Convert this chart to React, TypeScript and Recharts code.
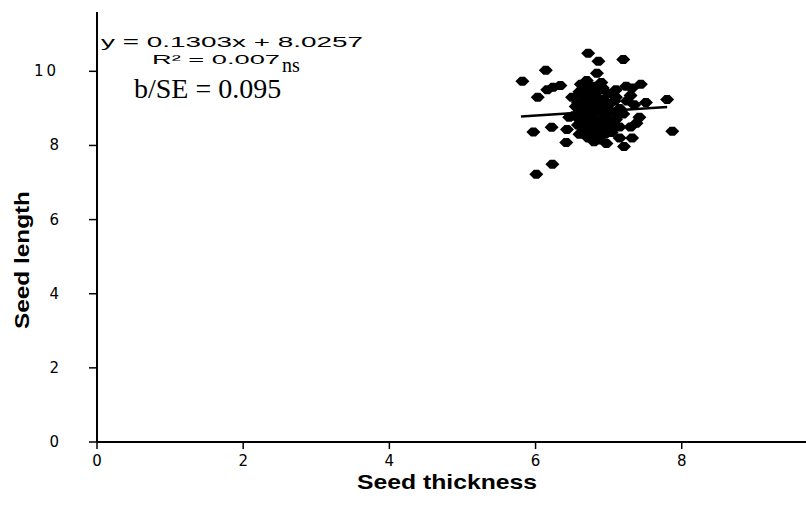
import React from "react";
import { ScatterChart, Scatter, XAxis, YAxis } from "recharts";

const thickness = [
  6.72, 6.86, 7.2, 6.14, 5.82, 6.84, 6.24, 6.34, 6.16, 6.03, 7.24, 7.44, 7.32, 7.51, 7.8, 7.42,
  6.46, 6.22, 5.97, 6.43, 7.87, 6.42, 6.97, 7.21, 7.32, 6.23, 6.01,
  6.6, 6.7, 6.8, 6.65, 6.75, 6.9, 7.0, 7.1, 6.55, 6.6, 6.7, 6.8, 6.9, 7.0, 6.85, 6.95, 7.05, 7.15,
  6.6, 6.7, 6.8, 6.9, 7.0, 7.1, 6.65, 6.75, 6.85, 6.95, 7.05, 7.15, 6.72, 6.88, 6.58, 6.62, 6.78,
  6.92, 7.1, 7.25, 7.2, 6.5, 6.52, 6.68, 6.82, 6.98, 6.72, 6.78, 6.86, 7.02, 6.62, 6.95, 6.7, 6.9,
  7.3, 7.38, 6.6, 7.3, 7.35, 7.15, 6.8,
  6.64, 6.74, 6.84, 6.94, 6.68, 6.78, 6.88, 6.98, 6.66, 6.76, 6.86, 6.96, 7.08, 7.12, 6.58, 6.72,
  6.82, 6.92, 7.04, 6.7,
];
const seedLength = [
  10.49, 10.27, 10.32, 10.03, 9.73, 9.95, 9.57, 9.62, 9.5, 9.3, 9.6, 9.65, 9.55, 9.16, 9.24, 8.76,
  8.76, 8.49, 8.36, 8.43, 8.38, 8.08, 8.05, 7.97, 8.2, 7.49, 7.22,
  9.45, 9.5, 9.35, 9.2, 9.1, 9.25, 9.4, 9.3, 9.05, 8.9, 8.95, 8.85, 8.95, 9.1, 9.05, 8.8, 8.9, 9.0,
  8.7, 8.6, 8.7, 8.55, 8.65, 8.7, 8.45, 8.35, 8.4, 8.3, 8.45, 8.5, 8.2, 8.15, 8.55, 9.65, 9.6,
  9.55, 9.5, 9.2, 8.85, 9.3, 8.8, 9.3, 9.15, 9.0, 8.8, 9.0, 8.6, 8.55, 9.05, 9.2, 9.75, 9.7,
  8.5, 8.6, 8.3, 9.35, 9.1, 8.2, 8.1,
  9.35, 9.25, 9.45, 9.15, 8.75, 8.8, 8.65, 8.9, 9.0, 8.5, 8.25, 8.45, 9.2, 8.8, 9.15, 9.4,
  9.55, 9.05, 8.35, 8.4,
];

const trendX = [5.8, 7.8];
const trendY = [8.78, 9.04];

const xTicks = [0, 2, 4, 6, 8];
const yTicks = [0, 2, 4, 6, 8, 10];

const points = thickness.map((x, i) => ({ x, y: seedLength[i] }));
const trend = trendX.map((x, i) => ({ x, y: trendY[i] }));

const Marker = (props: any) => {
  const { cx, cy } = props;
  if (cx == null || cy == null) return null;
  const pts = [
    [cx - 7, cy],
    [cx - 2.5, cy - 4.5],
    [cx + 2.5, cy - 4.5],
    [cx + 7, cy],
    [cx + 2.5, cy + 4.5],
    [cx - 2.5, cy + 4.5],
  ]
    .map((p) => p.join(","))
    .join(" ");
  return <polygon points={pts} fill="#000" />;
};

const NoShape = () => null;

const XTick = (props: any) => {
  const { x, y, payload } = props;
  return (
    <text x={x} y={y + 15} textAnchor="middle" fontFamily="DejaVu Sans, Arial, sans-serif" fontSize={15} fill="#000">
      {payload.value}
    </text>
  );
};

const YTick = (props: any) => {
  const { x, y, payload } = props;
  return (
    <text x={x - 28} y={y + 5} textAnchor="end" fontFamily="DejaVu Sans, Arial, sans-serif" fontSize={15} letterSpacing={payload.value >= 10 ? 3 : 0} fill="#000">
      {payload.value}
    </text>
  );
};

export default function App() {
  return (
    <div style={{ position: "absolute", left: 0, top: 0, width: 806, height: 508, background: "#fff" }}>
      <ScatterChart width={806} height={508} margin={{ top: 12, right: 0, bottom: 0, left: 0 }}>
        <XAxis
          type="number"
          dataKey="x"
          domain={[0, 9.7]}
          ticks={xTicks}
          axisLine={{ stroke: "#000", strokeWidth: 2 }}
          tickLine={{ stroke: "#000", strokeWidth: 1.5 }}
          tickSize={7}
          tick={<XTick />}
          height={66}
          allowDataOverflow
        />
        <YAxis
          type="number"
          dataKey="y"
          domain={[0, 11.6]}
          ticks={yTicks}
          axisLine={{ stroke: "#000", strokeWidth: 2 }}
          tickLine={{ stroke: "#000", strokeWidth: 1.5 }}
          tickSize={8}
          tick={<YTick />}
          width={97}
          allowDataOverflow
        />
        <Scatter data={points} shape={<Marker />} isAnimationActive={false} />
        <Scatter data={trend} line={{ stroke: "#000", strokeWidth: 2.5 }} shape={<NoShape />} isAnimationActive={false} />
        <text x={101} y={47} fontFamily="Arial, Liberation Sans, sans-serif" fontSize={14} textLength={262} lengthAdjust="spacingAndGlyphs" fill="#000">
          y = 0.1303x + 8.0257
        </text>
        <text x={152} y={64} fontFamily="Arial, Liberation Sans, sans-serif" fontSize={13.5} textLength={128} lengthAdjust="spacingAndGlyphs" fill="#000">
          R² = 0.007
        </text>
        <text x={134} y={98} fontFamily="Liberation Serif, Times New Roman, serif" fontSize={28} fill="#000">
          b/SE = 0.095
        </text>
        <text x={282} y={72} fontFamily="Liberation Serif, Times New Roman, serif" fontSize={20} fill="#000">
          ns
        </text>
        <text x={447} y={489} textAnchor="middle" fontFamily="Arial, Liberation Sans, sans-serif" fontWeight="bold" fontSize={21} textLength={180} lengthAdjust="spacingAndGlyphs" fill="#000">
          Seed thickness
        </text>
        <text
          x={0}
          y={0}
          transform="translate(29, 260) rotate(-90)"
          textAnchor="middle"
          fontFamily="Arial, Liberation Sans, sans-serif"
          fontWeight="bold"
          fontSize={21}
          textLength={138}
          lengthAdjust="spacingAndGlyphs"
          fill="#000"
        >
          Seed length
        </text>
      </ScatterChart>
    </div>
  );
}
